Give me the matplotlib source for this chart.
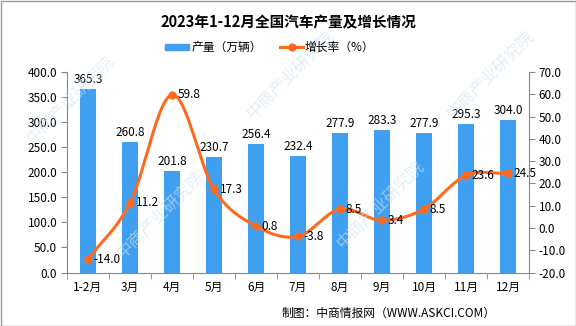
import numpy as np
import matplotlib
matplotlib.use("Agg")
import matplotlib.pyplot as plt
from matplotlib.patches import Rectangle

plt.rcParams['font.family'] = ['Noto Sans CJK SC', 'DejaVu Sans']

categories = ["1-2月", "3月", "4月", "5月", "6月", "7月", "8月", "9月", "10月", "11月", "12月"]
production = [365.3, 260.8, 201.8, 230.7, 256.4, 232.4, 277.9, 283.3, 277.9, 295.3, 304.0]
growth = [-14.0, 11.2, 59.8, 17.3, 0.8, -3.8, 8.5, 3.4, 8.5, 23.6, 24.5]
left_ticks = [0, 50, 100, 150, 200, 250, 300, 350, 400]
right_ticks = [-20, -10, 0, 10, 20, 30, 40, 50, 60, 70]

BAR = '#3f9ff0'
LINE = '#ff6a1f'

fig = plt.figure(figsize=(5.76, 3.26), dpi=100)
W, H = 576, 326
ax = fig.add_axes([67 / W, 1 - 272.5 / H, (529 - 67) / W, (272.5 - 72) / H])
ax2 = ax.twinx()

x = np.arange(len(categories))
ax.bar(x, production, width=0.39, color=BAR, zorder=2)
ax.set_xlim(-0.5, len(categories) - 0.5)
ax.set_ylim(0, 400)
ax.set_yticks(left_ticks)
ax.set_yticklabels([f"{v:.1f}" for v in left_ticks])
ax2.set_ylim(-20, 70)
ax2.set_yticks(right_ticks)
ax2.set_yticklabels([f"{v:.1f}" for v in right_ticks])

ax.set_xticks(x)
ax.set_xticklabels(categories)
ax.set_xticks(np.arange(-0.5, len(categories), 1), minor=True)
ax.tick_params(axis='x', which='major', length=0, labelsize=8.5, pad=6)
ax.tick_params(axis='x', which='minor', length=4, color='#888888')
ax.tick_params(axis='y', length=4, color='#888888', labelsize=8.5, pad=3)
ax2.tick_params(axis='y', length=4, color='#888888', labelsize=8.5, pad=3)

for a in (ax, ax2):
    a.spines['top'].set_visible(False)
    a.spines['left'].set_color('#888888')
    a.spines['right'].set_color('#888888')
    a.spines['bottom'].set_color('#888888')
ax.spines['right'].set_visible(False)
ax2.spines['left'].set_visible(False)
ax2.spines['bottom'].set_visible(False)

# smooth (Catmull-Rom) rendering of the growth line
def catmull(xs, ys, n=20):
    xs = np.asarray(xs, float); ys = np.asarray(ys, float)
    px = np.concatenate([[2 * xs[0] - xs[1]], xs, [2 * xs[-1] - xs[-2]]])
    py = np.concatenate([[2 * ys[0] - ys[1]], ys, [2 * ys[-1] - ys[-2]]])
    ox, oy = [], []
    t = np.linspace(0, 1, n, endpoint=False)
    for i in range(1, len(px) - 2):
        for arr, out in ((px, ox), (py, oy)):
            p0, p1, p2, p3 = arr[i - 1], arr[i], arr[i + 1], arr[i + 2]
            out.extend(0.5 * ((2 * p1) + (-p0 + p2) * t + (2 * p0 - 5 * p1 + 4 * p2 - p3) * t ** 2
                              + (-p0 + 3 * p1 - 3 * p2 + p3) * t ** 3))
    ox.append(xs[-1]); oy.append(ys[-1])
    return np.array(ox), np.array(oy)

sx, sy = catmull(x, growth)
ax2.plot(sx, sy, color=LINE, lw=2.2, zorder=3)
ax2.plot(x, growth, 'o', color=LINE, ms=5, zorder=4)

for xi, v in zip(x, production):
    ax.text(xi, v + 6, f"{v:.1f}", ha='center', va='bottom', fontsize=8.5, zorder=5)
for xi, v in zip(x, growth):
    ax2.text(xi + 0.13, v, f"{v:.1f}", ha='left', va='center', fontsize=8.5, zorder=5)

fig.text(0.5, 1 - 22 / H, "2023年1-12月全国汽车产量及增长情况", ha='center', va='center',
         fontsize=10.5, fontweight='bold')

# legend
fig.patches.append(Rectangle((165 / W, 1 - 50 / H), 24 / W, 6 / H, transform=fig.transFigure,
                             color=BAR, figure=fig))
fig.text(192 / W, 1 - 47 / H, "产量（万辆）", ha='left', va='center', fontsize=8.5)
fig.lines.append(plt.Line2D([280 / W, 303 / W], [1 - 47 / H, 1 - 47 / H], transform=fig.transFigure,
                            color=LINE, lw=2.2, figure=fig))
fig.lines.append(plt.Line2D([291.5 / W], [1 - 47 / H], transform=fig.transFigure,
                            color=LINE, marker='o', ms=5, figure=fig))
fig.text(305 / W, 1 - 47 / H, "增长率（%）", ha='left', va='center', fontsize=8.5)

fig.text(496 / W, 1 - 313 / H, "制图：中商情报网（WWW.ASKCI.COM）", ha='right', va='center', fontsize=8.5)

# watermarks
for (wx, wy) in [(70, 100), (290, 75), (490, 75), (160, 215), (380, 205)]:
    fig.text(wx / W, 1 - wy / H, "中商产业研究院", rotation=45, fontsize=12, color='#cfe3f3',
             alpha=0.6, ha='center', va='center', zorder=0)

fig.patches.append(Rectangle((0.5 / W, 0.5 / H), (W - 1) / W, (H - 1) / H, transform=fig.transFigure,
                             fill=False, edgecolor='#999999', lw=1, figure=fig))

fig.savefig("out.png", dpi=100)
